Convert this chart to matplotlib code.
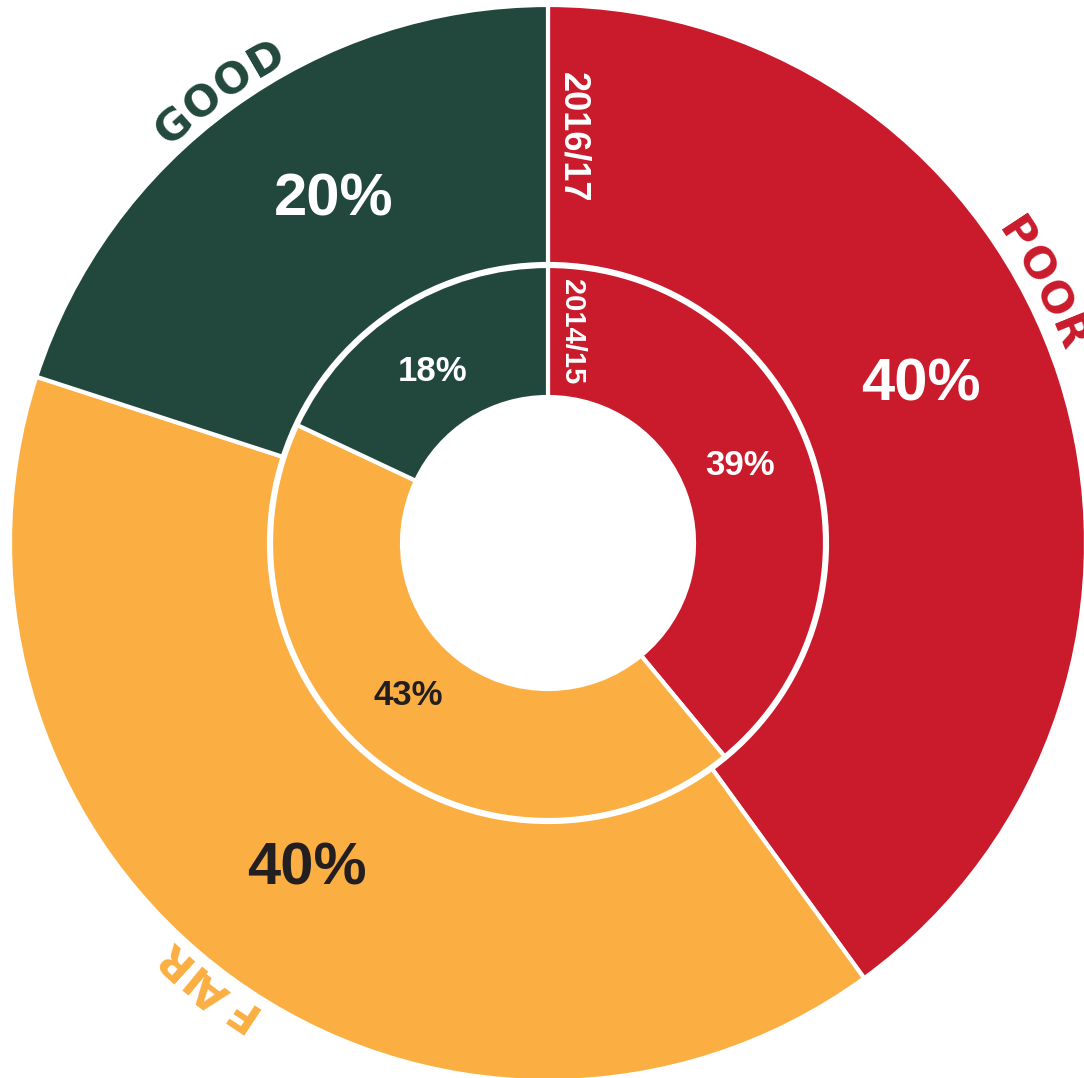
import matplotlib.pyplot as plt
import numpy as np
from matplotlib.font_manager import FontProperties
from matplotlib.textpath import text_to_path

# data
categories = ['POOR', 'FAIR', 'GOOD']
years = ['2016/17', '2014/15']
outer_vals = [40, 40, 20]   # 2016/17
inner_vals = [39, 43, 18]   # 2014/15

colors = ['#C91B2C', '#FBAF42', '#22483D']
pct_colors = ['white', '#231F20', 'white']

W, H = 1084, 1078
cx, cy = 548, 543   # centre of the rings in pixels

fig = plt.figure(figsize=(W / 100, H / 100), dpi=100)
ax = fig.add_axes([0, 0, 1, 1])

R_OUT, R_MID_OUT, R_MID_IN, R_IN = 538, 279, 277, 146

ax.pie(outer_vals, radius=R_OUT, startangle=90, counterclock=False, colors=colors,
       wedgeprops=dict(width=R_OUT - R_MID_OUT, edgecolor='white', linewidth=3))
ax.pie(inner_vals, radius=R_MID_IN, startangle=90, counterclock=False, colors=colors,
       wedgeprops=dict(width=R_MID_IN - R_IN, edgecolor='white', linewidth=3))

ax.set_xlim(-cx, W - cx)
ax.set_ylim(-(H - cy), cy)
ax.set_aspect('equal', adjustable='box')
ax.axis('off')

# percentage labels (angle in degrees, radius in px)
outer_label_ang = [23, 233.5, 122]
for v, a, c in zip(outer_vals, outer_label_ang, pct_colors):
    r = 405
    ax.text(r * np.cos(np.radians(a)), r * np.sin(np.radians(a)), f'{v}%',
            ha='center', va='center', fontsize=43, fontweight='bold', color=c,
            family='Liberation Sans')

inner_label_ang = [22, 227.4, 124]
for v, a, c in zip(inner_vals, inner_label_ang, pct_colors):
    r = 207
    ax.text(r * np.cos(np.radians(a)), r * np.sin(np.radians(a)), f'{v}%',
            ha='center', va='center', fontsize=25, fontweight='bold', color=c,
            family='Liberation Sans')

# year labels along the top seam
ax.text(25, (R_OUT + R_MID_OUT) / 2 - 3, years[0], rotation=-90, ha='center', va='center',
        fontsize=26, fontweight='bold', color='white', family='Liberation Sans')
ax.text(24, (R_MID_IN + R_IN) / 2, years[1], rotation=-90, ha='center', va='center',
        fontsize=21, fontweight='bold', color='white', family='Liberation Sans')


# curved category names, running clockwise round the outside
def arc_text(s, center_deg, radius, color, size=31, track=1):
    prop = FontProperties(family='DejaVu Sans', size=size, weight='bold')
    widths = [text_to_path.get_text_width_height_descent(ch, prop, ismath=False)[0] * 100 / 72
              for ch in s]
    total = sum(widths) + track * (len(s) - 1)
    pos = -total / 2
    for ch, w in zip(s, widths):
        a = center_deg - np.degrees((pos + w / 2) / radius)
        ax.text(radius * np.cos(np.radians(a)), radius * np.sin(np.radians(a)), ch,
                rotation=a - 90, rotation_mode='anchor', ha='center', va='baseline',
                fontproperties=prop, color=color)
        pos += w + track


cat_angles = [27.6, 232, 126]
for name, a, c in zip(categories, cat_angles, colors):
    arc_text(name, a, 548, c)

plt.savefig('out.png', dpi=100)
